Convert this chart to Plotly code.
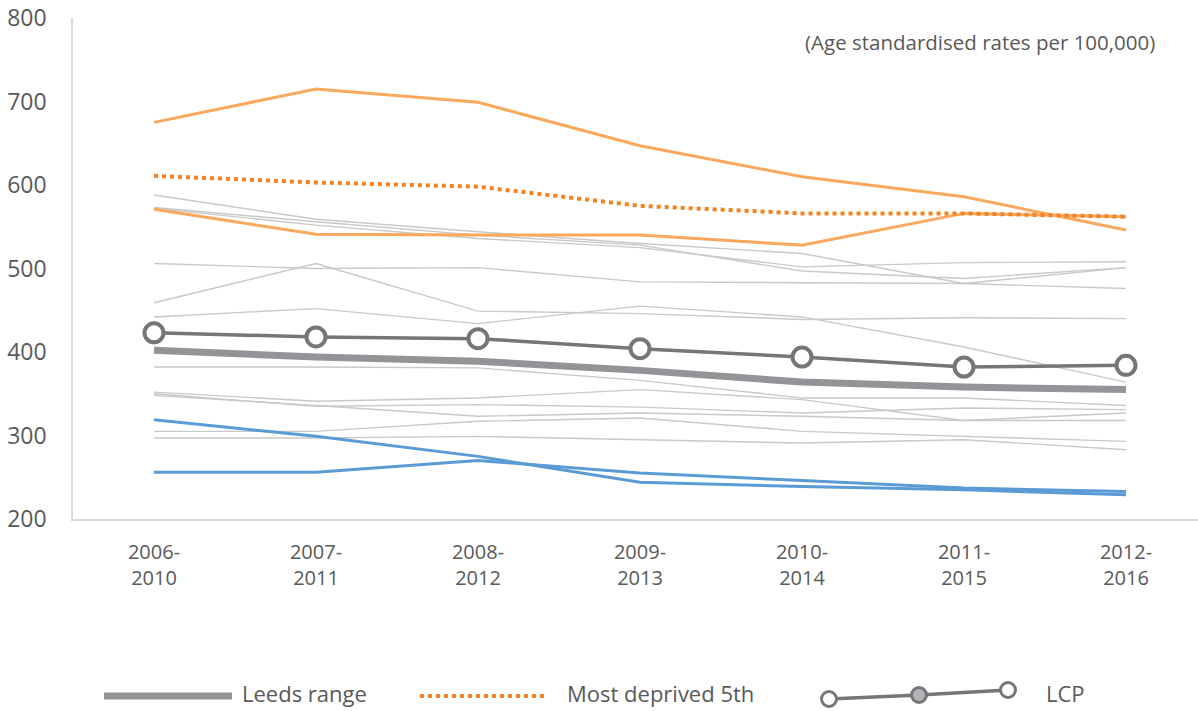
import plotly.graph_objects as go

# Rolling five-year periods
periods = ["2006-2010", "2007-2011", "2008-2012", "2009-2013",
           "2010-2014", "2011-2015", "2012-2016"]
tick_text = ["2006-<br>2010", "2007-<br>2011", "2008-<br>2012", "2009-<br>2013",
             "2010-<br>2014", "2011-<br>2015", "2012-<br>2016"]

# Individual LCP areas (thin grey background lines)
area_1 = [588, 559, 544, 530, 518, 482, 501]
area_2 = [573, 556, 540, 528, 497, 488, 501]
area_3 = [572, 552, 536, 525, 502, 507, 508]
area_4 = [506, 500, 501, 484, 483, 482, 476]
area_5 = [459, 506, 449, 446, 439, 441, 440]
area_6 = [442, 452, 434, 455, 442, 406, 364]
area_7 = [382, 382, 381, 366, 345, 345, 336]
area_8 = [352, 341, 345, 355, 343, 318, 327]
area_9 = [350, 335, 337, 334, 327, 333, 331]
area_10 = [348, 336, 323, 327, 323, 318, 318]
area_11 = [305, 305, 317, 321, 305, 299, 293]
area_12 = [297, 297, 299, 295, 291, 295, 283]

# Highest areas (orange) and lowest areas (blue)
high_1 = [675, 715, 699, 647, 610, 586, 546]
high_2 = [571, 541, 540, 540, 528, 566, 562]
low_1 = [319, 299, 275, 244, 239, 235, 229]
low_2 = [256, 256, 270, 255, 246, 237, 233]

# Summary series
leeds_range = [402, 394, 389, 378, 364, 358, 355]
most_deprived_5th = [611, 603, 598, 575, 566, 566, 562]
lcp = [423, 418, 416, 404, 394, 382, 384]

grey_areas = [area_1, area_2, area_3, area_4, area_5, area_6,
              area_7, area_8, area_9, area_10, area_11, area_12]

W, H = 1198, 711
ML, MT, MB = 73, 18, 192
PLOT_W = W - ML
PLOT_H = H - MT - MB

TEXT = "#595959"
FONT = "Open Sans"

x = list(range(len(periods)))
fig = go.Figure()

for vals in grey_areas:
    fig.add_trace(go.Scatter(x=x, y=vals, mode="lines",
                             line=dict(color="#c9c9c9", width=1.4),
                             hoverinfo="skip", showlegend=False))

for vals in (high_1, high_2):
    fig.add_trace(go.Scatter(x=x, y=vals, mode="lines",
                             line=dict(color="#F9A85E", width=3),
                             showlegend=False))

for vals in (low_1, low_2):
    fig.add_trace(go.Scatter(x=x, y=vals, mode="lines",
                             line=dict(color="#5B9BD5", width=3),
                             showlegend=False))

fig.add_trace(go.Scatter(x=x, y=leeds_range, mode="lines", name="Leeds range",
                         line=dict(color="#939497", width=7),
                         showlegend=False))

fig.add_trace(go.Scatter(x=x, y=lcp, mode="lines+markers", name="LCP",
                         line=dict(color="#76767A", width=3.5),
                         marker=dict(symbol="circle", size=19, color="white",
                                     line=dict(color="#76767A", width=4)),
                         showlegend=False))

fig.add_trace(go.Scatter(x=x, y=most_deprived_5th, mode="lines",
                         name="Most deprived 5th",
                         line=dict(color="#F58220", width=4, dash="dot"),
                         showlegend=False))


# Custom legend drawn below the plot area (pixel positions -> paper)
def px(xp):
    return (xp - ML) / PLOT_W


def py(yp):
    return (MT + PLOT_H - yp) / PLOT_H


shapes = []
legend_y = 696
text_y = 693
shapes.append(dict(type="line", xref="paper", yref="paper",
                   x0=px(104), x1=px(232), y0=py(legend_y), y1=py(legend_y),
                   line=dict(color="#939497", width=7)))
shapes.append(dict(type="line", xref="paper", yref="paper",
                   x0=px(420), x1=px(548), y0=py(legend_y), y1=py(legend_y),
                   line=dict(color="#F58220", width=4, dash="dot")))
lcp_pts = [(829, 699), (919, 695), (1008, 690)]
shapes.append(dict(type="path", xref="paper", yref="paper",
                   path="M {} {} L {} {} L {} {}".format(
                       px(lcp_pts[0][0]), py(lcp_pts[0][1]),
                       px(lcp_pts[1][0]), py(lcp_pts[1][1]),
                       px(lcp_pts[2][0]), py(lcp_pts[2][1])),
                   line=dict(color="#76767A", width=3.5)))
r = 7.5
for i, (cx, cy) in enumerate(lcp_pts):
    shapes.append(dict(type="circle", xref="paper", yref="paper",
                       x0=px(cx - r), x1=px(cx + r), y0=py(cy + r), y1=py(cy - r),
                       fillcolor="#B4B4B6" if i == 1 else "white",
                       line=dict(color="#76767A", width=3)))

legend_font = dict(family=FONT, size=22, color=TEXT)
annotations = [
    dict(text="Leeds range", x=px(240), y=py(text_y), xref="paper", yref="paper",
         xanchor="left", yanchor="middle", showarrow=False, font=legend_font),
    dict(text="Most deprived 5th", x=px(565), y=py(text_y), xref="paper", yref="paper",
         xanchor="left", yanchor="middle", showarrow=False, font=legend_font),
    dict(text="LCP", x=px(1044), y=py(text_y), xref="paper", yref="paper",
         xanchor="left", yanchor="middle", showarrow=False, font=legend_font),
    dict(text="(Age standardised rates per 100,000)", x=px(1157), y=py(42),
         xref="paper", yref="paper", xanchor="right", yanchor="middle",
         showarrow=False, font=dict(family=FONT, size=20.5, color=TEXT)),
]

fig.update_layout(
    width=W, height=H,
    margin=dict(l=ML, r=0, t=MT, b=MB, pad=0),
    paper_bgcolor="white", plot_bgcolor="white",
    showlegend=False,
    font=dict(family=FONT, color=TEXT),
    shapes=shapes,
    annotations=annotations,
    xaxis=dict(
        range=[-0.5, -0.5 + PLOT_W / 162.0],
        tickmode="array", tickvals=x, ticktext=tick_text,
        showgrid=False, zeroline=False,
        showline=True, linecolor="#D9D9D9", linewidth=1.5,
        ticks="", tickfont=dict(family=FONT, size=20, color=TEXT),
        ticklabelstandoff=14,
    ),
    yaxis=dict(
        range=[200, 800], tickmode="linear", tick0=200, dtick=100,
        showgrid=False, zeroline=False,
        showline=True, linecolor="#D9D9D9", linewidth=1.5,
        ticks="", tickfont=dict(family=FONT, size=23, color=TEXT),
        ticklabelstandoff=20,
    ),
)

fig.write_html("out.html")
